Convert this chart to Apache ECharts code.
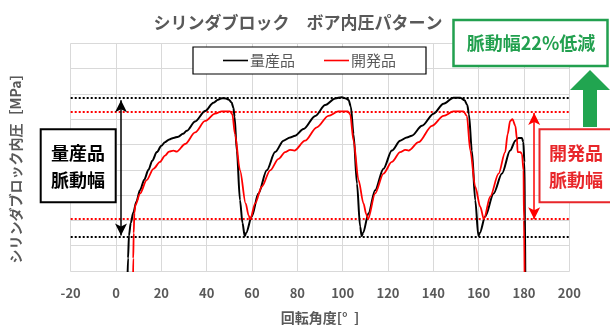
<!DOCTYPE html>
<html><head><meta charset="utf-8">
<script src="https://cdn.jsdelivr.net/npm/echarts@6/dist/echarts.min.js"></script>
<style>html,body{margin:0;padding:0;background:#fff}#c{width:610px;height:330px}</style>
</head><body><div id="c"></div>
<script>
// --- data ---
const titleText = 'シリンダブロック　ボア内圧パターン';
const xAxisName = '回転角度[°  ]';
const yAxisName = 'シリンダブロック内圧［MPa］';
const seriesNames = ['量産品', '開発品'];
const xTicks = [-20, 0, 20, 40, 60, 80, 100, 120, 140, 160, 180, 200];
const yTicks = [0, 1, 2, 3, 4, 5, 6, 7, 8, 9];

const blackAngle = [5.0,5.3,5.7,6.5,7.6,9.0,10.6,12.5,14.3,16.0,18.0,20.0,21.6,23.5,25.3,27.5,29.5,31.2,34.9,39.3,43.0,45.0,46.7,48.5,49.8,51.0,51.8,52.3,53.3,54.7,55.8,56.8,57.4,59.9,62.8,66.5,70.2,73.9,76.8,79.0,82.7,87.9,92.3,96.7,99.6,101.5,102.6,103.6,104.8,106.3,107.7,108.4,109.0,111.4,114.3,118.0,121.7,125.4,128.3,130.5,135.0,140.1,144.5,148.9,151.9,153.8,155.0,155.7,157.0,158.5,159.9,160.5,162.9,166.6,170.3,173.9,176.2,177.6,179.1,179.7,180.2,180.4,180.6];
const blackPress = [-0.5,0.5,1.4,1.9,2.3,2.75,3.2,3.62,4.0,4.36,4.7,4.95,5.09,5.2,5.26,5.31,5.42,5.54,5.91,6.32,6.65,6.77,6.83,6.82,6.77,6.66,6.45,6.1,4.76,2.8,1.9,1.38,1.5,2.15,3.06,3.98,4.7,5.15,5.28,5.35,5.61,6.13,6.56,6.82,6.87,6.82,6.76,6.5,5.41,3.46,1.76,1.38,1.5,2.28,3.19,4.04,4.76,5.15,5.28,5.35,5.74,6.22,6.61,6.85,6.85,6.75,6.55,6.2,4.76,2.8,1.38,1.5,2.15,3.06,3.85,4.76,5.15,5.26,5.26,5.1,4.3,2.0,-0.5];

const redAngle = [7.5,7.6,7.8,8.1,8.6,10.6,13.5,16.5,19.4,21.6,23.4,25.3,26.8,30.5,34.9,39.3,43.7,46.7,50.3,51.3,52.5,54.7,57.2,58.5,59.2,61.4,64.3,68.0,71.7,74.6,76.8,78.7,83.4,88.6,93.7,98.1,102.3,103.3,104.8,107.0,109.2,110.4,111.2,114.3,118.0,121.7,125.4,127.6,129.1,133.5,139.4,144.5,148.9,153.3,154.8,156.3,158.5,160.7,162.3,165.1,168.8,171.7,172.8,173.9,174.9,176.2,176.9,177.2,178.4,179.1,179.8,180.0,180.3];
const redPress = [-0.5,0.5,1.5,2.3,2.62,3.06,3.59,4.04,4.31,4.56,4.72,4.76,4.72,5.02,5.48,5.93,6.22,6.31,6.31,6.2,5.41,3.98,2.67,2.2,2.05,2.67,3.33,3.98,4.43,4.7,4.79,4.76,5.15,5.68,6.13,6.31,6.31,6.2,5.15,3.59,2.67,2.25,2.05,3.06,3.85,4.31,4.7,4.79,4.76,5.09,5.74,6.13,6.31,6.31,6.13,4.76,3.33,2.54,2.05,2.94,3.85,4.7,5.41,5.93,6.0,5.74,5.22,4.7,4.7,4.63,3.98,2.0,-0.5];

// pulsation band levels [max, min]
const blackBand = [6.83, 1.34];
const redBand = [6.31, 2.05];
// double-arrow annotations: [angle, top, bottom]
const blackArrow = [2.2, 6.75, 1.40];
const redArrow = [184.5, 6.25, 2.05];
const noteMass = ['量産品', '脈動幅'];
const noteDev = ['開発品', '脈動幅'];
const noteGreen = '脈動幅22%低減';

// --- chart ---
const BLACK = '#000000', RED = '#ff0000', GRID = '#d9d9d9', TXT = '#595959', GREEN = '#22a04f';
const zip = (a, b) => a.map((v, i) => [v, b[i]]);
const chart = echarts.init(document.getElementById('c'), null, {renderer: 'canvas'});
const font = '"Noto Sans CJK JP", "Noto Sans", sans-serif';

chart.setOption({
  backgroundColor: '#fff',
  animation: false,
  textStyle: {fontFamily: font},
  title: {text: titleText, left: 293, top: 9, textAlign: 'center',
    textStyle: {fontSize: 17, fontWeight: 'bold', color: TXT, fontFamily: font}},
  legend: {
    data: seriesNames, left: 193, top: 47, padding: [6, 30], itemGap: 29,
    borderColor: '#000', borderWidth: 1.2, backgroundColor: '#fff',
    icon: 'rect', itemWidth: 25, itemHeight: 1.6,
    textStyle: {fontSize: 15, color: TXT, fontFamily: font, fontWeight: 'normal', padding: [0, 0, 0, -3]}
  },
  grid: {left: 70.7, right: 40.7, top: 43.3, bottom: 56.7, containLabel: false},
  xAxis: {
    type: 'value', min: xTicks[0], max: xTicks[xTicks.length - 1], interval: xTicks[1] - xTicks[0],
    name: xAxisName, nameLocation: 'middle', nameGap: 40,
    nameTextStyle: {fontSize: 14, color: TXT, fontWeight: 'bold', fontFamily: font},
    axisLine: {show: true, lineStyle: {color: GRID, width: 1}},
    axisTick: {show: false},
    axisLabel: {margin: 16, fontSize: 13, color: TXT, fontWeight: 'bold', fontFamily: font},
    splitLine: {show: true, lineStyle: {color: GRID, width: 1}}
  },
  yAxis: {
    type: 'value', min: yTicks[0], max: yTicks[yTicks.length - 1], interval: 1,
    axisLine: {show: false}, axisTick: {show: false}, axisLabel: {show: false},
    splitLine: {show: true, lineStyle: {color: GRID, width: 1}}
  },
  series: [
    {
      name: seriesNames[0], type: 'line', data: zip(blackAngle, blackPress),
      showSymbol: false, symbol: 'none', smooth: 0.3, smoothMonotone: 'x', clip: true, z: 5,
      lineStyle: {color: BLACK, width: 2}, itemStyle: {color: BLACK},
      markLine: {
        silent: true, symbol: 'none', label: {show: false}, z: 3,
        lineStyle: {color: BLACK, type: [2, 2], width: 2},
        data: blackBand.map(v => ({yAxis: v}))
      }
    },
    {
      name: seriesNames[1], type: 'line', data: zip(redAngle, redPress),
      showSymbol: false, symbol: 'none', smooth: 0.3, smoothMonotone: 'x', clip: true, z: 6,
      lineStyle: {color: RED, width: 1.8}, itemStyle: {color: RED},
      markLine: {
        silent: true, symbol: 'none', label: {show: false}, z: 3,
        lineStyle: {color: RED, type: [2, 2], width: 2},
        data: redBand.map(v => ({yAxis: v}))
      }
    },
    {
      name: 'arrows', type: 'line', data: [], silent: true,
      markLine: {
        silent: true, symbol: ['arrow', 'arrow'], symbolSize: [9, 12], label: {show: false},
        data: [
          [{coord: [blackArrow[0], blackArrow[1]], lineStyle: {color: BLACK, width: 1.5, type: 'solid'}, itemStyle: {color: BLACK}},
           {coord: [blackArrow[0], blackArrow[2]]}],
          [{coord: [redArrow[0], redArrow[1]], lineStyle: {color: RED, width: 1.5, type: 'solid'}, itemStyle: {color: RED}},
           {coord: [redArrow[0], redArrow[2]]}]
        ]
      }
    }
  ],
  graphic: [
    {type: 'rect', shape: {x: 40.7, y: 129.3, width: 75, height: 73}, style: {fill: '#fff', stroke: BLACK, lineWidth: 2}, z: 20},
    {type: 'text', x: 78, y: 152.7, style: {text: noteMass[0], fill: BLACK, font: 'bold 18px ' + font, textAlign: 'center', textVerticalAlign: 'middle'}, z: 21},
    {type: 'text', x: 78, y: 180, style: {text: noteMass[1], fill: BLACK, font: 'bold 18px ' + font, textAlign: 'center', textVerticalAlign: 'middle'}, z: 21},
    {type: 'rect', shape: {x: 539.5, y: 129.3, width: 75, height: 73}, style: {fill: '#fff', stroke: '#e8262a', lineWidth: 2}, z: 20},
    {type: 'text', x: 576, y: 152.7, style: {text: noteDev[0], fill: '#e8262a', font: 'bold 18px ' + font, textAlign: 'center', textVerticalAlign: 'middle'}, z: 21},
    {type: 'text', x: 576, y: 180, style: {text: noteDev[1], fill: '#e8262a', font: 'bold 18px ' + font, textAlign: 'center', textVerticalAlign: 'middle'}, z: 21},
    {type: 'rect', shape: {x: 453.5, y: 20, width: 154, height: 46}, style: {fill: '#fff', stroke: GREEN, lineWidth: 2.5}, z: 20},
    {type: 'text', x: 531, y: 43, style: {text: noteGreen, fill: GREEN, font: 'bold 18px ' + font, textAlign: 'center', textVerticalAlign: 'middle'}, z: 21},
    {type: 'polygon', shape: {points: [[590, 70], [610, 90], [597, 90], [597, 127], [583, 127], [583, 90], [570, 90]]}, style: {fill: '#21a550'}, z: 20},
    {type: 'text', x: 16, y: 165, rotation: Math.PI / 2, style: {text: yAxisName, fill: TXT, font: 'bold 14px ' + font, textAlign: 'center', textVerticalAlign: 'middle'}, z: 21}
  ]
});
</script>
</body></html>
